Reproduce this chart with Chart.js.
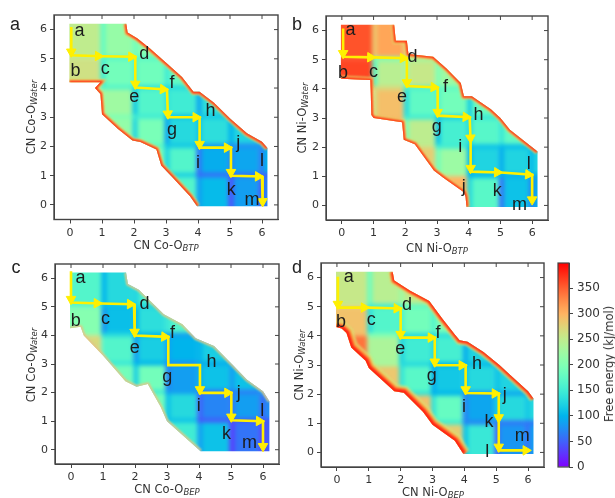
<!DOCTYPE html>
<html>
<head>
<meta charset="utf-8">
<script src="https://cdn.jsdelivr.net/npm/chart.js@4/dist/chart.umd.min.js"></script>
<style>
  html, body { margin: 0; padding: 0; background: #fff; }
  #page { position: relative; width: 615px; height: 498px; overflow: hidden; filter: blur(0.35px); }
  canvas { position: absolute; }
  .tag { position: absolute; font: 18px "Liberation Sans", sans-serif; color: #222; transform: translate(-50%, -50%); }
  .axis-title { position: absolute; font: 11.5px "DejaVu Sans", sans-serif; color: #333; white-space: nowrap; transform: translate(-50%, -50%); }
  .axis-title.rot { transform: translate(-50%, -50%) rotate(-90deg); }
  .axis-title i { font-size: 8.5px; position: relative; top: 2px; }
</style>
</head>
<body>
<div id="page"></div>
<script>
const axisTicks = [0, 1, 2, 3, 4, 5, 6];
const colEdges = [-0.3, 0.95, 1.95, 2.95, 3.95, 4.95, 5.9, 6.5];
const rowEdges = [6.5, 5, 4, 3, 2, 1, -0.3];
const stepLetters = ['a', 'b', 'c', 'd', 'e', 'f', 'g', 'h', 'i', 'j', 'k', 'l', 'm'];
const cbarTicks = [0, 50, 100, 150, 200, 250, 300, 350];

// free energy per block, top row first (kJ/mol)
const cellsA = [
    [250, 218, 205, 190, null, null, null],
    [262, 190, 188, 178, null, null, null],
    [225, 225, 165, 150, 135, 125, null],
    [null, 215, 195, 130, 135, 125, 110],
    [null, null, 190, 165, 95, 90, 100],
    [null, null, null, 165, 105, 85, 70]
];
const cellsB = [
    [358, 310, 295, 240, null, null, null],
    [365, 245, 255, 222, 200, null, null],
    [null, 292, 175, 190, 180, 170, null],
    [null, 300, 248, 155, 168, 175, 150],
    [null, null, 280, 222, 125, 125, 125],
    [null, null, null, 300, 170, 110, 95]
];
const cellsC = [
    [165, 130, 155, 165, null, null, null],
    [205, 108, 135, 165, null, null, null],
    [270, 165, 120, 100, 120, 140, null],
    [null, 190, 190, 85, 110, 110, 130],
    [null, null, 190, 130, 70, 85, 75],
    [null, null, null, 150, 110, 60, 50]
];
const cellsD = [
    [255, 245, 250, 220, null, null, null],
    [290, 165, 190, 195, null, null, null],
    [340, 235, 150, 155, 125, 120, null],
    [null, 285, 170, 115, 130, 125, 130],
    [null, null, 290, 180, 90, 130, 130],
    [null, null, null, 280, 145, 80, 85]
];

// narrow darker strip on the left side of each block
const leftBandA = [
    [null, 178, 190, 170, null, null, null],
    [null, 150, 165, 150, null, null, null],
    [null, null, 115, 140, 90, 110, null],
    [null, null, 125, 90, 110, 100, 90],
    [null, null, null, 125, 60, 70, 65],
    [null, null, null, null, 85, 40, 45]
];
const leftBandB = [
    [null, 285, 280, 220, null, null, null],
    [null, 170, 230, 200, 170, null, null],
    [null, 265, 130, 165, 120, 150, null],
    [null, null, 195, 110, 130, 145, 120],
    [null, null, null, 190, 100, 95, 105],
    [null, null, null, null, 130, 60, 70]
];
const leftBandC = [
    [null, 100, 125, 150, null, null, null],
    [null, 80, 100, 145, null, null, null],
    [null, null, 85, 85, 100, 120, null],
    [null, null, 120, 70, 95, 85, 110],
    [null, null, null, 110, 50, 60, 55],
    [null, null, null, null, 85, 30, 30]
];
const leftBandD = [
    [null, 185, 225, 195, null, null, null],
    [null, 135, 160, 165, null, null, null],
    [null, null, 125, 130, 95, 110, null],
    [null, null, 140, 95, 110, 110, null],
    [null, null, null, 140, 70, 115, 115],
    [null, null, null, null, 110, 50, 60]
];

// same along the bottom side of each block
const lowBandA = [
    [null, 170, 170, 170, null, null, null],
    [null, 165, 140, 130, null, null, null],
    [null, 200, 150, 110, 115, 105, null],
    [null, null, 170, 115, 80, 75, 85],
    [null, null, null, 120, 55, 55, 50]
];
const lowBandB = [
    [null, 200, 225, 205, null, null, null],
    [null, 270, 160, 175, 150, null, null],
    [null, null, 150, 120, 145, 150, null],
    [null, null, null, 150, 110, 105, 110],
    [null, null, null, null, 100, 95, 95]
];
const lowBandC = [
    [null, 105, 125, 150, null, null, null],
    [null, 130, 100, 85, null, null, null],
    [null, 145, 100, 75, 95, 100, null],
    [null, null, 150, 85, 60, 65, 90],
    [null, null, null, 110, 45, 45, 45]
];
const lowBandD = [
    [null, 150, 175, 185, null, null, null],
    [null, 200, 130, 135, null, null, null],
    [null, 230, 130, 100, 105, 110, null],
    [null, null, 140, 100, 75, 90, 100],
    [null, null, null, 150, 70, 60, 60]
];

// outline of the sampled region
const outlineAx = [-0.02, 1.76, 1.8, 2.1, 2.5, 3.03, 3.5, 3.86, 4.05, 4.5, 5.0, 5.53, 6, 6.17, 6.17, 3.97, 3.75, 3.2, 2.85, 2.7, 2.2, 1.95, 1.5, 1, 0.95, 0.78, 0.95, -0.02];
const outlineAy = [6.2, 6.2, 5.9, 5.7, 5.35, 4.84, 4.38, 3.87, 3.87, 3.5, 2.96, 2.45, 2.16, 1.95, -0.05, -0.05, 0.3, 0.95, 1.35, 1.9, 2.15, 2.2, 2.6, 3.1, 3.8, 4.0, 4.2, 4.2];
const outlineBx = [-0.03, 1.65, 1.7, 2.05, 2.1, 2.88, 3.3, 3.75, 3.85, 4.1, 4.7, 5, 5.3, 6, 6.17, 6.17, 3.93, 3.9, 3.85, 3.2, 2.9, 2.3, 1.95, 1.9, 1, 0.93, 0.9, -0.03];
const outlineBy = [6.2, 6.2, 5.65, 5.65, 5.2, 5.1, 4.7, 4.2, 3.75, 3.75, 3.3, 3, 2.6, 2, 1.85, -0.05, -0.05, 0.3, 0.45, 0.95, 1.2, 2.1, 2.25, 2.85, 3, 3.1, 4.3, 4.35];
const outlineCx = [-0.03, 1.72, 1.78, 2.12, 2.9, 3.48, 3.9, 4.47, 5.04, 5.5, 6, 6.2, 6.2, 4.05, 3.7, 3, 2.8, 2.4, 2.05, 1.7, 1, 0.4, 0.3, -0.03];
const outlineCy = [6.2, 6.2, 5.8, 5.6, 4.74, 4.39, 3.9, 3.63, 2.98, 2.45, 2.05, 1.7, -0.05, -0.05, 0.3, 1, 1.5, 2.3, 2.2, 2.4, 3.3, 4, 4.3, 4.25];
const outlineDx = [-0.03, 1.75, 1.8, 2.3, 2.9, 3.3, 3.7, 3.85, 4.1, 4.6, 5.1, 5.5, 6, 6.17, 6.17, 3.97, 3.7, 3, 2.7, 2.1, 1.8, 1, 0.9, 0.45, 0.3, 0.15, -0.03];
const outlineDy = [6.2, 6.2, 5.9, 5.55, 5.2, 4.6, 4.05, 3.85, 3.8, 3.45, 3, 2.6, 2.1, 1.85, -0.05, -0.05, 0.4, 0.95, 1.4, 2.05, 2.1, 2.9, 3.15, 3.6, 4.1, 4.25, 4.3];

// yellow pathway, third list marks the vertices that carry an arrow head
const pathAx = [0.04, 0.04, 1, 2.04, 2.04, 3.03, 3.06, 4.05, 4.05, 5.03, 5.03, 6, 6.02];
const pathAy = [6.09, 5.12, 5.09, 5.07, 4.02, 3.95, 3, 3, 1.96, 1.96, 1, 0.97, 0];
const headsA = [0, 1, 1, 1, 1, 1, 1, 1, 1, 1, 1, 1, 1];
const pathBx = [0.04, 0.04, 1.02, 2.05, 2.05, 3.02, 3.02, 4.03, 4.06, 4.06, 5.02, 6, 6];
const pathBy = [6.07, 5.1, 5.08, 5.05, 4.1, 4.05, 3.08, 3.03, 2.2, 1.16, 1.13, 1.05, 0.08];
const headsB = [0, 1, 1, 1, 1, 1, 1, 1, 1, 1, 1, 1, 1];
const pathCx = [0, 0, 0.93, 1.97, 1.99, 3.04, 3.04, 4.03, 4.03, 5.01, 5.01, 6, 6];
const pathCy = [6.25, 5.15, 5.12, 5.09, 4, 3.95, 2.96, 2.96, 1.99, 1.99, 1.03, 1, 0];
const headsC = [0, 1, 1, 1, 1, 1, 0, 0, 1, 1, 1, 1, 1];
const pathDx = [0.03, 0.03, 0.97, 2, 2, 3.07, 3.07, 4.04, 4.04, 5.08, 5.08, 5.08, 6.05];
const pathDy = [6.03, 4.97, 4.97, 4.94, 3.94, 3.94, 2.99, 2.99, 2.04, 2.02, 1.08, 0.07, 0.07];
const headsD = [0, 1, 1, 1, 1, 1, 1, 1, 1, 1, 1, 1, 1];

// where each step letter sits
const lettersAx = [0.3, 0.17, 1.1, 2.32, 2.01, 3.19, 3.19, 4.39, 4, 5.26, 5.04, 6, 5.69];
const lettersAy = [5.96, 4.65, 4.65, 5.2, 3.68, 4.24, 2.5, 3.27, 1.48, 2.11, 0.57, 1.56, 0.17];
const lettersBx = [0.27, 0.04, 1, 2.23, 1.9, 3.27, 2.99, 4.31, 3.73, 3.84, 4.9, 5.89, 5.6];
const lettersBy = [6.02, 4.59, 4.59, 5.13, 3.71, 4.1, 2.63, 3.14, 2.06, 0.63, 0.56, 1.49, 0.02];
const lettersCx = [0.3, 0.15, 1.08, 2.3, 1.99, 3.17, 3.01, 4.39, 3.99, 5.24, 4.86, 5.98, 5.58];
const lettersCy = [6, 4.56, 4.56, 5.15, 3.57, 4.13, 2.46, 3.12, 1.58, 1.96, 0.61, 1.4, 0.23];
const lettersDx = [0.37, 0.13, 1.08, 2.2, 1.99, 3.17, 2.98, 4.4, 3.99, 5.27, 4.77, 4.72, 5.82];
const lettersDy = [6.03, 4.54, 4.54, 5.11, 3.56, 4.14, 2.57, 3.1, 1.62, 1.96, 1.1, 0.07, 0.55];

const MAX_ENERGY = 400;
const LEFT_BAND = 0.16;
const LOW_BAND = 0.1;

// matplotlib "rainbow"
function rainbow(v) {
    const t = Math.min(1, Math.max(0, v / MAX_ENERGY));
    const r = Math.min(1, Math.abs(2 * t - 0.5));
    const g = Math.sin(Math.PI * t);
    const b = Math.cos(Math.PI * t / 2);
    return `rgb(${Math.round(r * 255)},${Math.round(g * 255)},${Math.round(b * 255)})`;
}

function toPoints(xs, ys) {
    return xs.map((x, i) => ({ x: x, y: ys[i] }));
}

// every cell carries its own box in data units, drawn through the scales later
function cellPoints(rows, leftBand, lowBand) {
    const pts = [];
    const add = (x0, x1, y0, y1, v) => pts.push({ x: (x0 + x1) / 2, y: (y0 + y1) / 2, x0, x1, y0, y1, v });
    rows.forEach((row, j) => row.forEach((v, i) => {
        if (v !== null) add(colEdges[i], colEdges[i + 1], rowEdges[j + 1], rowEdges[j], v);
    }));
    leftBand.forEach((row, j) => row.forEach((v, i) => {
        if (v !== null) add(colEdges[i], colEdges[i] + LEFT_BAND, rowEdges[j + 1], rowEdges[j], v);
    }));
    lowBand.forEach((row, j) => row.forEach((v, i) => {
        if (v !== null) add(colEdges[i], colEdges[i + 1], rowEdges[j + 1] - LOW_BAND / 2, rowEdges[j + 1] + LOW_BAND, v);
    }));
    return pts;
}

function headPoints(xs, ys, flags) {
    const pts = [];
    flags.forEach((f, i) => {
        if (!f) return;
        const dx = xs[i] - xs[i - 1], dy = ys[i] - ys[i - 1];
        const len = Math.hypot(dx, dy);
        pts.push({
            x: xs[i] - 0.12 * dx / len,
            y: ys[i] - 0.12 * dy / len,
            angle: Math.atan2(dx, dy) * 180 / Math.PI
        });
    });
    return pts;
}

function outlinePath(chart, ctx, pts) {
    const xs = chart.scales.x, ys = chart.scales.y;
    ctx.beginPath();
    pts.forEach((p, i) => {
        const px = xs.getPixelForValue(p.x), py = ys.getPixelForValue(p.y);
        if (i === 0) ctx.moveTo(px, py); else ctx.lineTo(px, py);
    });
    ctx.closePath();
}

const heatPlugin = {
    id: 'heat',
    beforeDatasetsDraw(chart) {
        const { ctx, canvas, scales: { x: xs, y: ys } } = chart;
        const off = document.createElement('canvas');
        off.width = canvas.width;
        off.height = canvas.height;
        const o = off.getContext('2d');
        chart.data.datasets[0].data.forEach(c => {
            const x0 = xs.getPixelForValue(c.x0), x1 = xs.getPixelForValue(c.x1);
            const y0 = ys.getPixelForValue(c.y1), y1 = ys.getPixelForValue(c.y0);
            o.fillStyle = rainbow(c.v);
            o.fillRect(x0, y0, x1 - x0, y1 - y0);
        });
        ctx.save();
        outlinePath(chart, ctx, chart.$outline);
        ctx.clip();
        ctx.filter = 'blur(2px)';
        ctx.drawImage(off, 0, 0);
        ctx.restore();
    },
    // rim stays inside the outline
    beforeDatasetDraw(chart, args) {
        if (!chart.data.datasets[args.index].isRim) return;
        const ctx = chart.ctx;
        ctx.save();
        outlinePath(chart, ctx, chart.$outline);
        ctx.clip();
        ctx.filter = 'blur(1px)';
    },
    afterDatasetDraw(chart, args) {
        if (chart.data.datasets[args.index].isRim) chart.ctx.restore();
    },
    afterDatasetsDraw(chart) {
        const { ctx } = chart;
        const idx = chart.data.datasets.findIndex(d => d.label === 'letters');
        const meta = chart.getDatasetMeta(idx);
        ctx.save();
        ctx.font = '18px "Liberation Sans", sans-serif';
        ctx.fillStyle = '#1c1c1c';
        ctx.textAlign = 'center';
        ctx.textBaseline = 'alphabetic';
        meta.data.forEach((el, i) => {
            const m = ctx.measureText(stepLetters[i]);
            ctx.fillText(stepLetters[i], el.x, el.y + (m.actualBoundingBoxAscent - m.actualBoundingBoxDescent) / 2);
        });
        ctx.restore();
    },
    afterDraw(chart) {
        const { ctx, chartArea: a, scales: { x: xs, y: ys } } = chart;
        ctx.save();
        ctx.strokeStyle = '#444';
        ctx.lineWidth = 1.4;
        ctx.strokeRect(a.left, a.top, a.right - a.left, a.bottom - a.top);
        ctx.lineWidth = 1;
        ctx.beginPath();
        axisTicks.forEach(t => {
            const px = xs.getPixelForValue(t), py = ys.getPixelForValue(t);
            ctx.moveTo(px, a.top); ctx.lineTo(px, a.top + 4);
            ctx.moveTo(a.right, py); ctx.lineTo(a.right - 4, py);
        });
        ctx.stroke();
        ctx.restore();
    }
};

const page = document.getElementById('page');

function addCanvas(left, top, width, height) {
    const c = document.createElement('canvas');
    c.width = width;
    c.height = height;
    c.style.left = left + 'px';
    c.style.top = top + 'px';
    page.appendChild(c);
    return c;
}

function addTitle(html, x, y, rotated) {
    const d = document.createElement('div');
    d.className = 'axis-title' + (rotated ? ' rot' : '');
    d.style.left = x + 'px';
    d.style.top = y + 'px';
    d.innerHTML = html;
    page.appendChild(d);
}

function addTag(text, x, y) {
    const d = document.createElement('div');
    d.className = 'tag';
    d.style.left = x + 'px';
    d.style.top = y + 'px';
    d.textContent = text;
    page.appendChild(d);
}

function makeAxis(width, height) {
    const tickFont = { family: '"DejaVu Sans", sans-serif', size: 11 };
    const common = {
        type: 'linear', min: -0.5, max: 6.5,
        grid: { drawOnChartArea: false, drawTicks: true, tickLength: 4, tickColor: '#444' },
        border: { color: '#444' },
        afterBuildTicks: s => { s.ticks = axisTicks.map(v => ({ value: v })); }
    };
    return {
        x: { ...common, ticks: { font: tickFont, color: '#333', padding: 3, maxRotation: 0, autoSkip: false },
             afterFit: s => { s.height = height; } },
        y: { ...common, ticks: { font: tickFont, color: '#333', padding: 3, autoSkip: false },
             afterFit: s => { s.width = width; } }
    };
}

// rim colours go from the outside in: red, orange, then a soft yellow towards the field
function rimSets(points, layers, width) {
    return layers.map((layer, i) => ({
        label: 'rim', isRim: true, data: points, showLine: true, pointRadius: 0,
        borderColor: layer.color, borderWidth: width * layer.scale, order: 20 - i
    }));
}

const hotRim = [
    { color: 'rgba(215,230,120,0.7)', scale: 2.4 },
    { color: '#ffa040', scale: 1.7 },
    { color: '#ff2414', scale: 1 }
];
const paleRim = [
    { color: 'rgba(200,225,140,0.7)', scale: 2 },
    { color: '#f2b488', scale: 1 }
];

function drawPanel(cfg) {
    const canvas = addCanvas(cfg.left, cfg.top, cfg.width, cfg.height);
    const outline = toPoints(cfg.outlineX, cfg.outlineY);
    const bottom = outline.findIndex(p => p.y < 0);
    const heads = headPoints(cfg.pathX, cfg.pathY, cfg.heads);
    return new Chart(canvas, {
        type: 'scatter',
        data: {
            datasets: [
                { label: 'Free energy', data: cellPoints(cfg.cells, cfg.leftBand, cfg.lowBand), pointRadius: 0, order: 30 },
                ...rimSets(outline.slice(1, bottom), cfg.rim, cfg.rimUpper),
                ...rimSets(outline.slice(bottom + 1), cfg.rim, cfg.rimLower),
                { label: 'path', data: toPoints(cfg.pathX, cfg.pathY), showLine: true, pointRadius: 0,
                  borderColor: '#fff000', borderWidth: 2.6, order: 3 },
                { label: 'heads', data: heads, pointStyle: 'triangle', pointRadius: 5.5,
                  pointRotation: c => c.raw ? c.raw.angle : 0,
                  backgroundColor: '#fff000', borderColor: '#fff000', borderWidth: 1, order: 2 },
                { label: 'letters', data: toPoints(cfg.lettersX, cfg.lettersY), pointRadius: 0, order: 1 }
            ]
        },
        options: {
            responsive: false,
            animation: false,
            events: [],
            layout: { padding: { left: 0, top: cfg.areaTop, right: cfg.width - cfg.areaRight, bottom: 0 } },
            plugins: { legend: { display: false }, tooltip: { enabled: false } },
            scales: makeAxis(cfg.areaLeft, cfg.height - cfg.areaBottom)
        },
        plugins: [{
            id: 'outlineRef',
            beforeInit(c) { c.$outline = outline; }
        }, heatPlugin]
    });
}

drawPanel({ left: 0, top: 0, width: 300, height: 250, areaLeft: 54, areaRight: 278, areaTop: 15, areaBottom: 219.5,
    cells: cellsA, leftBand: leftBandA, lowBand: lowBandA, outlineX: outlineAx, outlineY: outlineAy,
    pathX: pathAx, pathY: pathAy, heads: headsA, lettersX: lettersAx, lettersY: lettersAy,
    rim: hotRim, rimUpper: 2.6, rimLower: 2.6 });
drawPanel({ left: 300, top: 0, width: 260, height: 250, areaLeft: 26, areaRight: 248, areaTop: 16, areaBottom: 220,
    cells: cellsB, leftBand: leftBandB, lowBand: lowBandB, outlineX: outlineBx, outlineY: outlineBy,
    pathX: pathBx, pathY: pathBy, heads: headsB, lettersX: lettersBx, lettersY: lettersBy,
    rim: hotRim, rimUpper: 2.6, rimLower: 2.6 });
drawPanel({ left: 0, top: 250, width: 300, height: 248, areaLeft: 55, areaRight: 279, areaTop: 14, areaBottom: 214,
    cells: cellsC, leftBand: leftBandC, lowBand: lowBandC, outlineX: outlineCx, outlineY: outlineCy,
    pathX: pathCx, pathY: pathCy, heads: headsC, lettersX: lettersCx, lettersY: lettersCy,
    rim: paleRim, rimUpper: 1.8, rimLower: 1.8 });
drawPanel({ left: 300, top: 250, width: 260, height: 248, areaLeft: 21, areaRight: 244, areaTop: 13, areaBottom: 217,
    cells: cellsD, leftBand: leftBandD, lowBand: lowBandD, outlineX: outlineDx, outlineY: outlineDy,
    pathX: pathDx, pathY: pathDy, heads: headsD, lettersX: lettersDx, lettersY: lettersDy,
    rim: hotRim, rimUpper: 3.6, rimLower: 6 });

// colour bar
const barCanvas = addCanvas(550, 250, 60, 230);
new Chart(barCanvas, {
    type: 'bar',
    data: {
        labels: ['Free energy'],
        datasets: [{
            data: [[0, MAX_ENERGY - 1]],
            categoryPercentage: 1,
            barPercentage: 1,
            backgroundColor: ctx => {
                const area = ctx.chart.chartArea;
                if (!area) return '#888';
                const g = ctx.chart.ctx.createLinearGradient(0, area.bottom, 0, area.top);
                for (let s = 0; s <= 32; s++) g.addColorStop(s / 32, rainbow(s / 32 * MAX_ENERGY));
                return g;
            }
        }]
    },
    options: {
        responsive: false,
        animation: false,
        events: [],
        layout: { padding: { left: 8, top: 13, right: 0, bottom: 13 } },
        plugins: { legend: { display: false }, tooltip: { enabled: false } },
        scales: {
            x: { display: false },
            y: {
                position: 'right', min: 0, max: MAX_ENERGY - 1,
                grid: { drawOnChartArea: false, tickLength: 4, tickColor: '#444' },
                border: { color: '#444' },
                afterBuildTicks: s => { s.ticks = cbarTicks.map(v => ({ value: v })); },
                ticks: { font: { family: '"DejaVu Sans", sans-serif', size: 12 }, color: '#333', padding: 4, autoSkip: false },
                afterFit: s => { s.width = 41; }
            }
        }
    },
    plugins: [{
        id: 'barFrame',
        afterDraw(chart) {
            const { ctx, chartArea: a } = chart;
            ctx.save();
            ctx.strokeStyle = '#444';
            ctx.lineWidth = 1.2;
            ctx.strokeRect(a.left, a.top, a.right - a.left, a.bottom - a.top);
            ctx.restore();
        }
    }]
});

addTitle('CN Co-O<i>BTP</i>', 166, 245);
addTitle('CN Ni-O<i>BTP</i>', 437, 248);
addTitle('CN Co-O<i>BEP</i>', 167, 489);
addTitle('CN Ni-O<i>BEP</i>', 433, 492);
addTitle('CN Co-O<i>Water</i>', 31, 117, true);
addTitle('CN Ni-O<i>Water</i>', 302, 118, true);
addTitle('CN Co-O<i>Water</i>', 31, 365, true);
addTitle('CN Ni-O<i>Water</i>', 299, 365, true);
addTitle('Free energy (kJ/mol)', 609, 364, true);
addTag('a', 15, 24);
addTag('b', 297, 24);
addTag('c', 16, 267);
addTag('d', 297, 267);
</script>
</body>
</html>
